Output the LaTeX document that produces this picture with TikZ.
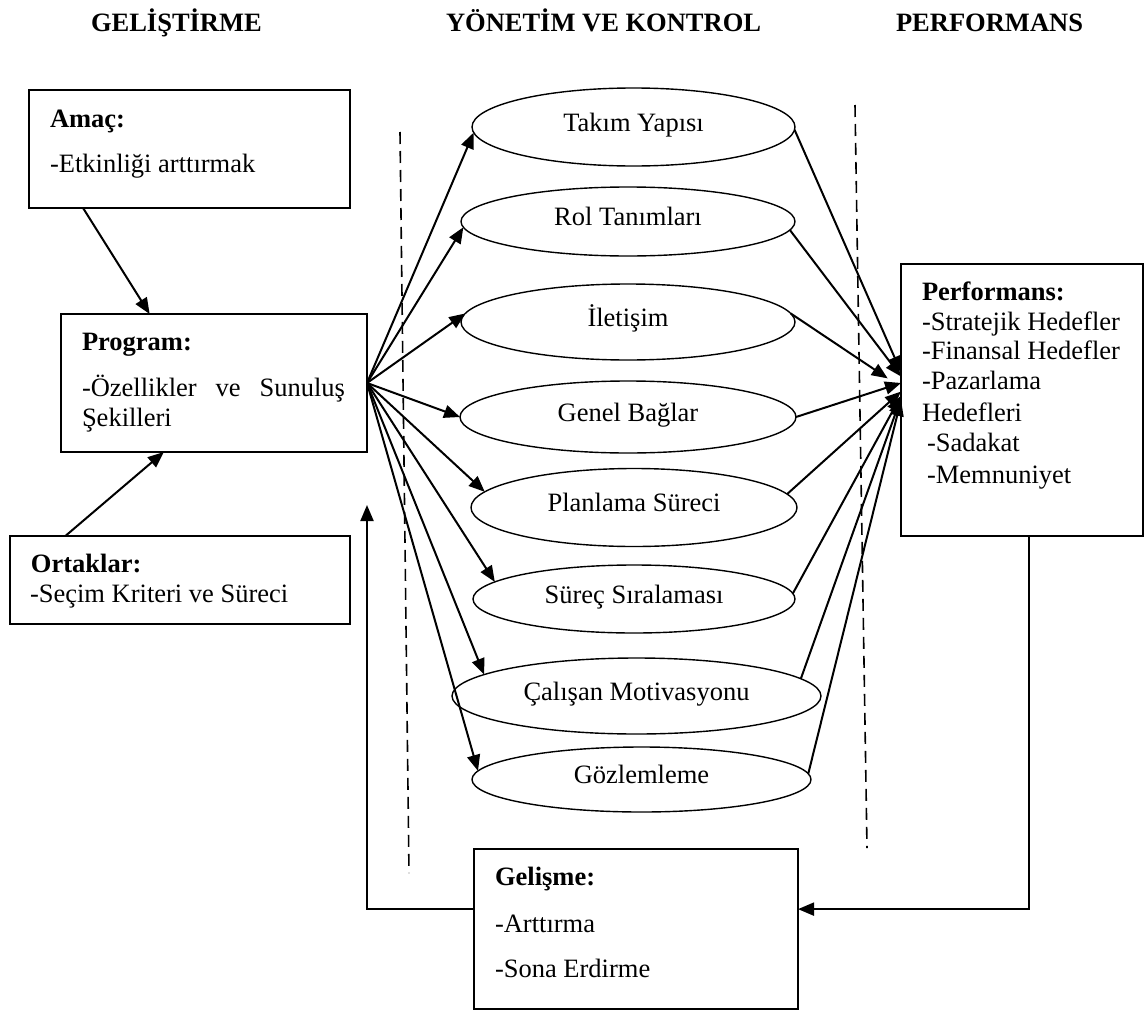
\documentclass[tikz,border=0pt]{standalone}
\usepackage{fontspec}
\setmainfont{Liberation Serif}
\usetikzlibrary{arrows.meta,shapes.geometric}
\begin{document}
\begin{tikzpicture}[x=0.5pt,y=-0.5pt,
  every node/.style={font=\fontsize{13.25pt}{15.25pt}\selectfont, inner sep=0pt, outer sep=0pt},
  boxframe/.style={draw, rectangle, line width=0.9pt, anchor=north west},
  ovalnode/.style={draw, ellipse, line width=0.7pt, text height=6pt, text depth=2pt},
  txt/.style={anchor=base west},
  colhead/.style={font=\fontsize{13.25pt}{15.25pt}\selectfont\bfseries},
  flow/.style={line width=1pt, -{Triangle[length=8pt,width=6.5pt]}},
  divider/.style={line width=0.8pt, dash pattern=on 6pt off 3.5pt},
]
\useasboundingbox (0,0) rectangle (1145,1012);

% column headings
\node[colhead, anchor=base west] (hdev) at (91,32) {GELİŞTİRME};
\node[colhead, anchor=base west] (hman) at (446,32) {YÖNETİM VE KONTROL};
\node[colhead, anchor=base east] (hperf) at (1083,32) {PERFORMANS};

% column separators
\draw[divider] (400,132) -- (409,873);
\draw[divider] (855,105) -- (867,848);

% left column boxes
\node[boxframe, minimum width=160.5pt, minimum height=59pt] (amac) at (29,90) {};
\node[txt] (amacT) at (50,127) {\textbf{Amaç:}};
\node[txt] (amacL) at (50,172) {-Etkinliği arttırmak};

\node[boxframe, minimum width=153pt, minimum height=69pt] (prog) at (61,314) {};
\node[txt] (progT) at (82,350) {\textbf{Program:}};
\node[txt] (progL1) at (82,396) {\makebox[131.5pt][s]{-Özellikler ve Sunuluş}};
\node[txt] (progL2) at (82,426) {Şekilleri};

\node[boxframe, minimum width=170pt, minimum height=44pt] (ort) at (10,536) {};
\node[txt] (ortT) at (31,572) {\textbf{Ortaklar:}};
\node[txt] (ortL) at (30,602) {-Seçim Kriteri ve Süreci};

% right column box
\node[boxframe, minimum width=121pt, minimum height=136pt] (perf) at (901,264) {};
\node[txt] (perfT) at (922,300) {\textbf{Performans:}};
\node[txt] (perfL1) at (922,330) {-Stratejik Hedefler};
\node[txt] (perfL2) at (922,359) {-Finansal Hedefler};
\node[txt] (perfL3) at (922,389) {-Pazarlama};
\node[txt] (perfL4) at (922,421) {Hedefleri};
\node[txt] (perfL5) at (927,451) {-Sadakat};
\node[txt] (perfL6) at (927,483) {-Memnuniyet};

% bottom box
\node[boxframe, minimum width=162pt, minimum height=80pt] (gel) at (474,849) {};
\node[txt] (gelT) at (495,885) {\textbf{Gelişme:}};
\node[txt] (gelL1) at (495,932) {-Arttırma};
\node[txt] (gelL2) at (495,977) {-Sona Erdirme};

% management elements
\node[ovalnode, minimum width=161.5pt, minimum height=39pt] (takim) at (633.5,127) {Takım Yapısı};
\node[ovalnode, minimum width=167pt, minimum height=34.5pt] (rol) at (628,221.5) {Rol Tanımları};
\node[ovalnode, minimum width=167pt, minimum height=38pt] (ilet) at (628,322) {İletişim};
\node[ovalnode, minimum width=168pt, minimum height=36pt] (genel) at (628,417) {Genel Bağlar};
\node[ovalnode, minimum width=163pt, minimum height=39pt] (plan) at (634,507.5) {Planlama Süreci};
\node[ovalnode, minimum width=161pt, minimum height=34pt] (surec) at (634,599) {Süreç Sıralaması};
\node[ovalnode, minimum width=184.5pt, minimum height=38pt] (calisan) at (636.5,696) {Çalışan Motivasyonu};
\node[ovalnode, minimum width=169.5pt, minimum height=32.5pt] (gozlem) at (641.5,779.5) {Gözlemleme};

% inputs to the program
\draw[flow] (amac.209) -- (prog.133.7);
\draw[flow] (ort.159.7) -- (prog.234);

% program to management elements
\draw[flow] (prog.east) -- (takim.182);
\draw[flow] (prog.east) -- (rol.182);
\draw[flow] (prog.east) -- (ilet.177.6);
\draw[flow] (prog.east) -- (genel.180);
\draw[flow] (prog.east) -- (plan.174.4);
\draw[flow] (prog.east) -- (surec.173.5);
\draw[flow] (prog.east) -- (calisan.172);
\draw[flow] (prog.east) -- (gozlem.177.5);

% management elements to performance
\draw[flow] (takim.-1.8) -- (perf.167);
\draw[flow] (rol.-3.6) -- (perf.169);
\draw[flow, shorten >=8pt] (ilet.3.1) -- (perf.174);
\draw[flow] (genel.0.6) -- (perf.172);
\draw[flow] (plan.5.1) -- (perf.176);
\draw[flow] (surec.2.1) -- (perf.178);
\draw[flow] (calisan.6.8) -- (perf.179);
\draw[flow] (gozlem.2.2) -- (perf.180);

% feedback loop
\coordinate (fbEnd) at (367,505);
\draw[flow] (perf.273) |- (gel.7);
\draw[flow] (gel.173) -| (fbEnd);
\end{tikzpicture}
\end{document}
